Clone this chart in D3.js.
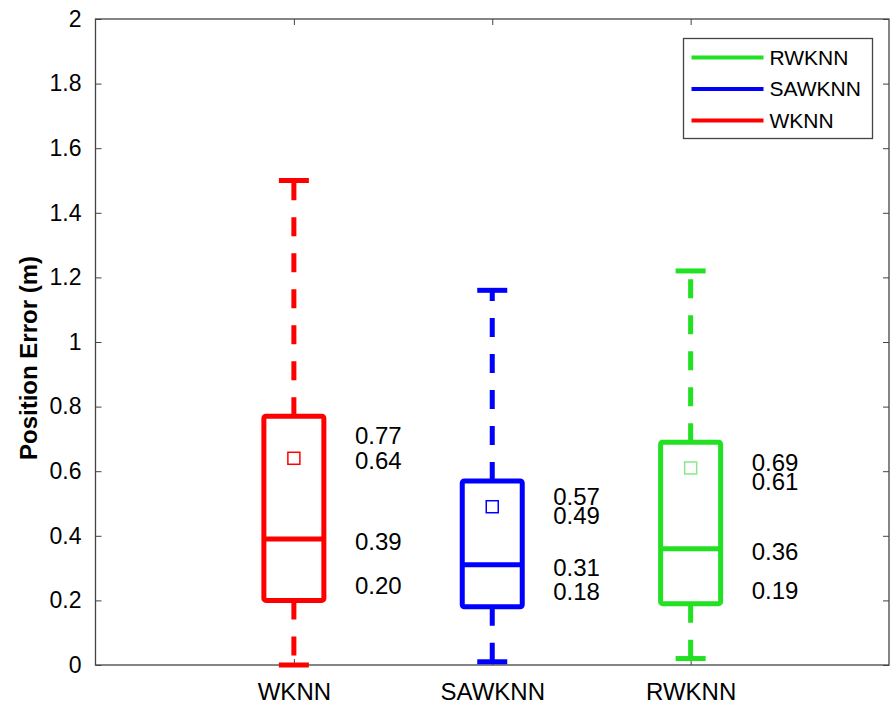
<!DOCTYPE html>
<html>
<head>
<meta charset="utf-8">
<script src="https://cdn.jsdelivr.net/npm/d3@7"></script>
<style>
  body { margin: 0; background: #fff; }
  text { font-family: "Liberation Sans", Arial, sans-serif; }
</style>
</head>
<body>
<div id="chart"></div>
<script>
// data
const methods = ["WKNN", "SAWKNN", "RWKNN"];
const colors = ["#ff0000", "#0000ff", "#22e022"];
const meanColors = ["#ff0000", "#0000ff", "#88e888"];
const whiskLow = [0.0, 0.01, 0.02];
const q1 = [0.20, 0.18, 0.19];
const median = [0.39, 0.31, 0.36];
const q3 = [0.77, 0.57, 0.69];
const whiskHigh = [1.5, 1.16, 1.22];
const means = [0.64, 0.49, 0.61];

// annotation text and where it sits (y in data units)
const labelText = [
  ["0.77", "0.64", "0.39", "0.20"],
  ["0.57", "0.49", "0.31", "0.18"],
  ["0.69", "0.61", "0.36", "0.19"]
];
const labelAt = [
  [0.709, 0.632, 0.381, 0.245],
  [0.52, 0.461, 0.303, 0.226],
  [0.628, 0.567, 0.35, 0.229]
];
const yTicks = [0, 0.2, 0.4, 0.6, 0.8, 1, 1.2, 1.4, 1.6, 1.8, 2];
const legendOrder = [2, 1, 0];

const w = 891, h = 706;
const margin = { top: 19, right: 2, bottom: 41, left: 95.5 };
const innerW = w - margin.left - margin.right;
const innerH = h - margin.top - margin.bottom;

const svg = d3.select("#chart").append("svg")
  .attr("width", w).attr("height", h);

const x = d3.scaleLinear().domain([0, 4]).range([0, innerW]);
const y = d3.scaleLinear().domain([0, 2]).range([innerH, 0]);

const g = svg.append("g")
  .attr("transform", `translate(${margin.left},${margin.top})`);

// axes box
g.append("rect")
  .attr("width", innerW).attr("height", innerH)
  .attr("fill", "none").attr("stroke", "#444").attr("stroke-width", 1.3);

const yAxis = d3.axisLeft(y).tickValues(yTicks).tickSizeInner(-6).tickSizeOuter(0)
  .tickPadding(14).tickFormat(d => d === 0 ? "0" : d3.format("~g")(d));
const gy = g.append("g").call(yAxis);
gy.select(".domain").remove();
gy.selectAll("line").attr("stroke", "#444");
gy.selectAll("text").attr("font-size", 23).attr("fill", "#000");

const gyr = g.append("g").attr("transform", `translate(${innerW},0)`)
  .call(d3.axisRight(y).tickValues(yTicks).tickSizeInner(-6).tickSizeOuter(0).tickFormat(""));
gyr.select(".domain").remove();
gyr.selectAll("line").attr("stroke", "#444");

const xAxis = d3.axisBottom(x).tickValues([1, 2, 3]).tickSizeInner(-6).tickSizeOuter(0)
  .tickPadding(18).tickFormat(d => methods[d - 1]);
const gx = g.append("g").attr("transform", `translate(0,${innerH})`).call(xAxis);
gx.select(".domain").remove();
gx.selectAll("line").attr("stroke", "#444");
gx.selectAll("text").attr("font-size", 24).attr("fill", "#000");

const gxt = g.append("g")
  .call(d3.axisTop(x).tickValues([1, 2, 3]).tickSizeInner(-6).tickSizeOuter(0).tickFormat(""));
gxt.select(".domain").remove();
gxt.selectAll("line").attr("stroke", "#444");

// y label
svg.append("text")
  .attr("transform", `translate(37,${margin.top + innerH / 2 + 16}) rotate(-90)`)
  .attr("text-anchor", "middle")
  .attr("font-size", 24).attr("font-weight", "bold")
  .text("Position Error (m)");

// boxes
const boxW = 60, capW = 30;
const idx = d3.range(methods.length);
const boxes = g.selectAll(".box").data(idx).enter().append("g").attr("class", "box");

boxes.each(function (i) {
  const b = d3.select(this);
  const cx = x(i + 1);
  const c = colors[i];
  // whiskers (dashed)
  b.append("line")
    .attr("x1", cx).attr("x2", cx)
    .attr("y1", y(q3[i])).attr("y2", y(whiskHigh[i]))
    .attr("stroke", c).attr("stroke-width", 5).attr("stroke-dasharray", "19,17");
  b.append("line")
    .attr("x1", cx).attr("x2", cx)
    .attr("y1", y(q1[i])).attr("y2", y(whiskLow[i]))
    .attr("stroke", c).attr("stroke-width", 5).attr("stroke-dasharray", "19,17");
  // caps
  [whiskLow[i], whiskHigh[i]].forEach(v => {
    b.append("line")
      .attr("x1", cx - capW / 2).attr("x2", cx + capW / 2)
      .attr("y1", y(v)).attr("y2", y(v))
      .attr("stroke", c).attr("stroke-width", 5);
  });
  // box
  b.append("rect")
    .attr("x", cx - boxW / 2).attr("y", y(q3[i]))
    .attr("width", boxW).attr("height", y(q1[i]) - y(q3[i]))
    .attr("rx", 2)
    .attr("fill", "none").attr("stroke", c).attr("stroke-width", 5);
  // median
  b.append("line")
    .attr("x1", cx - boxW / 2).attr("x2", cx + boxW / 2)
    .attr("y1", y(median[i])).attr("y2", y(median[i]))
    .attr("stroke", c).attr("stroke-width", 5);
  // mean marker
  b.append("rect")
    .attr("x", cx - 6).attr("y", y(means[i]) - 6)
    .attr("width", 12).attr("height", 12)
    .attr("fill", "none").attr("stroke", meanColors[i]).attr("stroke-width", 1.5);
  // annotations
  labelText[i].forEach((t, k) => {
    b.append("text")
      .attr("x", cx + 61).attr("y", y(labelAt[i][k]))
      .attr("dy", "0.35em")
      .attr("font-size", 24).attr("fill", "#000")
      .text(t);
  });
});

// legend
const leg = svg.append("g").attr("transform", "translate(683.5,38.5)");
leg.append("rect").attr("width", 189).attr("height", 100)
  .attr("fill", "#fff").attr("stroke", "#444").attr("stroke-width", 1.3);
legendOrder.forEach((i, k) => {
  const ly = 19 + k * 31.5;
  leg.append("line").attr("x1", 8).attr("x2", 80).attr("y1", ly).attr("y2", ly)
    .attr("stroke", colors[i]).attr("stroke-width", 4);
  leg.append("text").attr("x", 86).attr("y", ly).attr("dy", "0.35em")
    .attr("font-size", 21).attr("fill", "#000").text(methods[i]);
});
</script>
</body>
</html>
